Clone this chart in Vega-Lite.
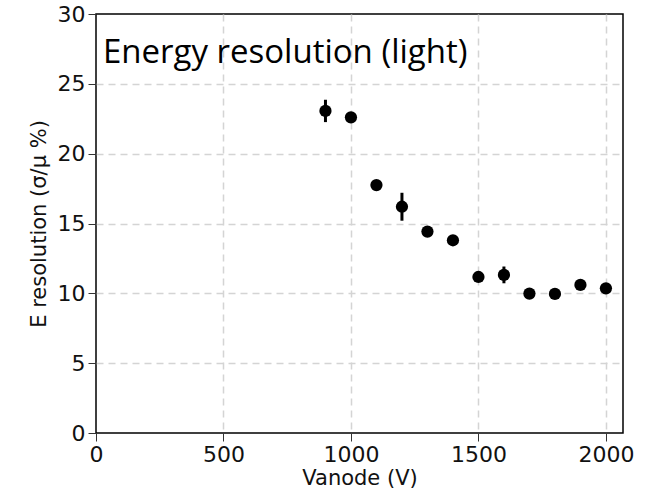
{
  "$schema": "https://vega.github.io/schema/vega-lite/v6.json",
  "width": 527,
  "height": 419,
  "autosize": "none",
  "padding": {"left": 96, "top": 14, "right": 36, "bottom": 64},
  "background": "white",
  "config": {
    "view": {"stroke": "black", "strokeWidth": 1.5},
    "axis": {
      "domain": false,
      "grid": true,
      "gridColor": "#d4d4d4",
      "gridDash": [7, 5],
      "gridWidth": 1.5,
      "tickColor": "#333333",
      "tickSize": 8,
      "tickWidth": 1,
      "labelFont": "DejaVu Sans",
      "labelFontSize": 22,
      "labelColor": "#111111",
      "labelFlush": false,
      "titleFont": "DejaVu Sans",
      "titleFontSize": 21,
      "titleFontWeight": "normal",
      "titleColor": "#111111",
      "labelPadding": 3,
      "format": "d"
    }
  },
  "datasets": {
    "pts": [
      {"v": 900, "res": 23.06, "err": 0.8},
      {"v": 1000, "res": 22.6, "err": 0.2},
      {"v": 1100, "res": 17.75, "err": 0.35},
      {"v": 1200, "res": 16.2, "err": 1.0},
      {"v": 1300, "res": 14.42, "err": 0.2},
      {"v": 1400, "res": 13.8, "err": 0.2},
      {"v": 1500, "res": 11.17, "err": 0.2},
      {"v": 1600, "res": 11.32, "err": 0.6},
      {"v": 1700, "res": 9.98, "err": 0.15},
      {"v": 1800, "res": 9.96, "err": 0.15},
      {"v": 1900, "res": 10.6, "err": 0.3},
      {"v": 2000, "res": 10.36, "err": 0.2}
    ],
    "label": [
      {"v": 27, "res": 26.5, "text": "Energy resolution (light)"}
    ]
  },
  "layer": [
    {
      "data": {"name": "pts"},
      "mark": {"type": "errorbar", "color": "black", "thickness": 3},
      "encoding": {
        "x": {
          "field": "v",
          "type": "quantitative",
          "scale": {"domain": [0, 2067], "nice": false},
          "axis": {
            "values": [0, 500, 1000, 1500, 2000],
            "title": "Vanode (V)",
            "titlePadding": 2,
            "gridOpacity": {"condition": {"test": "datum.value == 0", "value": 0}, "value": 1}
          }
        },
        "y": {
          "field": "res",
          "type": "quantitative",
          "scale": {"domain": [0, 30], "nice": false},
          "axis": {
            "values": [0, 5, 10, 15, 20, 25, 30],
            "title": "E resolution (σ/μ %)",
            "titlePadding": 8,
            "gridOpacity": {"condition": {"test": "datum.value == 0 || datum.value == 30", "value": 0}, "value": 1}
          }
        },
        "yError": {"field": "err"}
      }
    },
    {
      "data": {"name": "pts"},
      "mark": {"type": "circle", "color": "black", "opacity": 1, "size": 150},
      "encoding": {
        "x": {"field": "v", "type": "quantitative"},
        "y": {"field": "res", "type": "quantitative"}
      }
    },
    {
      "data": {"name": "label"},
      "mark": {"type": "text", "align": "left", "baseline": "alphabetic", "font": "Open Sans", "fontSize": 33, "color": "black"},
      "encoding": {
        "x": {"field": "v", "type": "quantitative"},
        "y": {"field": "res", "type": "quantitative"},
        "text": {"field": "text"}
      }
    }
  ]
}
